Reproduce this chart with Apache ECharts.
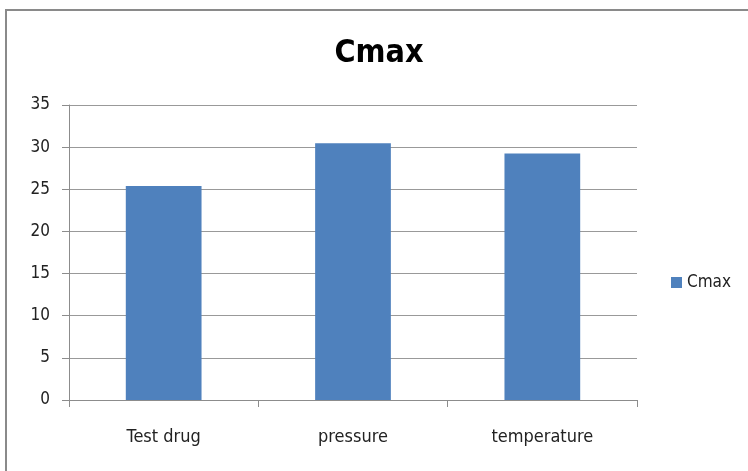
<!DOCTYPE html>
<html>
<head>
<meta charset="utf-8">
<script src="https://cdn.jsdelivr.net/npm/echarts@6/dist/echarts.min.js"></script>
<style>
  html, body { margin: 0; padding: 0; background: #fff; }
  #chart { width: 748px; height: 471px; }
</style>
</head>
<body>
<div id="chart"></div>
<script>
// Cmax by formulation condition
const categories = ['Test drug', 'pressure', 'temperature'];
const seriesName = 'Cmax';
const cmaxValues = [25.4, 30.45, 29.25];
const yTicks = [0, 5, 10, 15, 20, 25, 30, 35];

const FONT = "'Liberation Sans Narrow', 'DejaVu Sans Condensed', 'Open Sans', sans-serif";

const chart = echarts.init(document.getElementById('chart'));
chart.setOption({
  animation: false,
  backgroundColor: '#fff',
  title: {
    text: seriesName,
    left: 374,
    top: 33,
    textAlign: 'center',
    textStyle: { fontFamily: FONT, fontWeight: 'bold', fontSize: 32, color: '#000' }
  },
  legend: {
    data: [seriesName],
    left: 666,
    top: 269,
    itemWidth: 11,
    itemHeight: 11,
    itemGap: 5,
    icon: 'rect',
    textStyle: { fontFamily: FONT, fontSize: 17, color: '#222' }
  },
  grid: { left: 69, right: 111, top: 105, bottom: 71, containLabel: false },
  xAxis: {
    type: 'category',
    data: categories,
    axisLine: { lineStyle: { color: '#8c8c8c', width: 1 } },
    axisTick: { show: true, length: 7, alignWithLabel: false, lineStyle: { color: '#8c8c8c' } },
    axisLabel: { fontFamily: FONT, fontSize: 18, color: '#222', margin: 28 },
    splitLine: { show: false }
  },
  yAxis: {
    type: 'value',
    min: yTicks[0],
    max: yTicks[yTicks.length - 1],
    interval: yTicks[1] - yTicks[0],
    axisLine: { show: true, lineStyle: { color: '#8c8c8c', width: 1 } },
    axisTick: { show: true, length: 7, lineStyle: { color: '#8c8c8c' } },
    axisLabel: { fontFamily: FONT, fontSize: 17, color: '#222', margin: 19 },
    splitLine: { show: true, lineStyle: { color: '#999', width: 1 } }
  },
  series: [{
    name: seriesName,
    type: 'bar',
    data: cmaxValues,
    barWidth: '40%',
    itemStyle: { color: '#4f81bd' }
  }],
  graphic: [{
    type: 'polyline',
    silent: true,
    shape: { points: [[6, 480], [6, 10], [760, 10]] },
    style: { stroke: '#8a8a8a', lineWidth: 2, fill: null }
  }]
});
</script>
</body>
</html>
